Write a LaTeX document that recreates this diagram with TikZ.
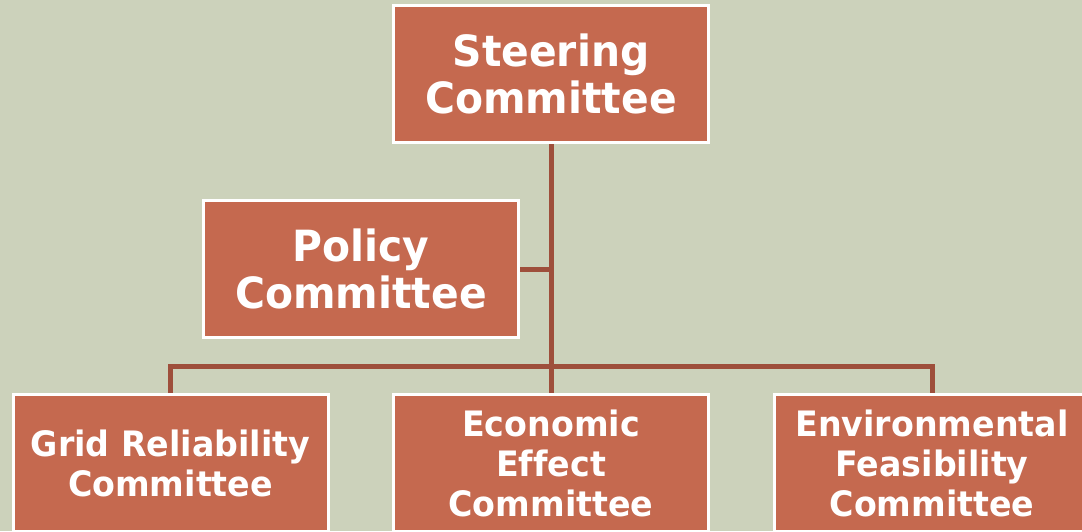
\documentclass[tikz,border=0pt]{standalone}
\usepackage{fontspec}
\newfontfamily\boxfont{DejaVu Sans}[FakeStretch=0.95,Ligatures=NoCommon]
\definecolor{bgsage}{HTML}{CCD2BB}
\definecolor{boxred}{HTML}{C5694F}
\definecolor{linkbrown}{HTML}{9E4F3B}
\pgfdeclarelayer{bglayer}
\pgfdeclarelayer{linklayer}
\pgfsetlayers{bglayer,linklayer,main}
\tikzset{
  orgbox/.style={draw=white, line width=3pt, fill=boxred, minimum width=315pt, minimum height=137pt,
    inner sep=0pt, align=center, text=white, font=\boxfont\bfseries},
  bigtext/.style={font=\boxfont\bfseries\fontsize{43}{47}\selectfont},
  smalltext/.style={font=\boxfont\bfseries\fontsize{35}{40}\selectfont},
  link/.style={draw=linkbrown, line width=5pt}
}
\begin{document}
\begin{tikzpicture}[x=1pt,y=-1pt]
\begin{pgfonlayer}{bglayer}
\path[use as bounding box, fill=bgsage] (0,0) rectangle (1082,531);
\end{pgfonlayer}
\clip (0,0) rectangle (1082,531);
\node[orgbox, bigtext] (steer) at (551,74) {Steering\\Committee};
\node[orgbox, bigtext] (policy) at (361,269) {Policy\\Committee};
\node[orgbox, smalltext] (grid) at (170.5,463) {Grid Reliability\\Committee};
\node[orgbox, smalltext] (econ) at (551,463) {Economic\\Effect\\Committee};
\node[orgbox, smalltext] (env) at (932,463) {Environmental\\Feasibility\\Committee};
\coordinate (bus) at (551,366);
\begin{pgfonlayer}{linklayer}
\draw[link] (steer.south) -- (econ.north);
\draw[link] (policy.east) -- (policy.east -| steer.south);
\draw[link] (grid.north) |- (bus) -| (env.north);
\end{pgfonlayer}
\end{tikzpicture}
\end{document}
